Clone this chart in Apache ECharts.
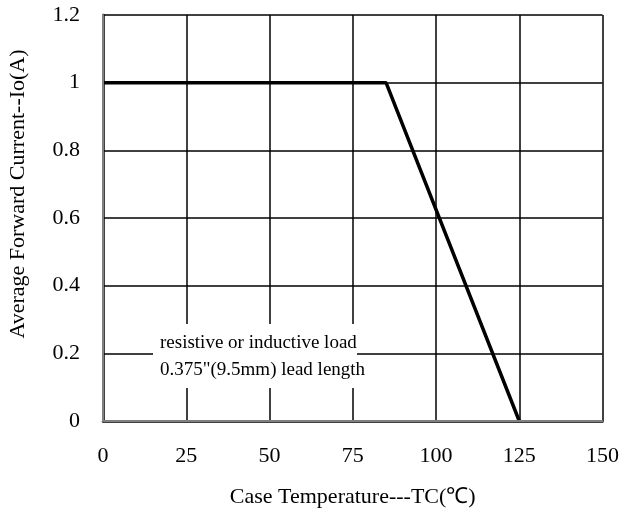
<!DOCTYPE html>
<html><head><meta charset="utf-8">
<script src="https://cdn.jsdelivr.net/npm/echarts@6/dist/echarts.min.js"></script>
<style>html,body{margin:0;padding:0;background:#fff}#c{width:622px;height:513px}</style>
</head><body><div id="c"></div>
<script>
const xTicks = [0, 25, 50, 75, 100, 125, 150];
const yTicks = [0, 0.2, 0.4, 0.6, 0.8, 1, 1.2];
const temperature = [0, 85, 125];
const current = [1, 1, 0];
const xName = 'Case Temperature---TC(\u2103)';
const yName = 'Average Forward Current--Io(A)';
const noteLines = ['resistive or inductive load', '0.375"(9.5mm) lead length'];

const font = 'Liberation Serif';
const chart = echarts.init(document.getElementById('c'));
chart.setOption({
  animation: false,
  grid: { left: 103, right: 18, top: 15, bottom: 91 },
  xAxis: [{
    type: 'value', min: xTicks[0], max: xTicks[xTicks.length - 1], interval: 25,
    name: xName, nameLocation: 'middle', nameGap: 65,
    nameTextStyle: { fontFamily: font, fontSize: 22, color: '#000' },
    axisLine: { lineStyle: { color: '#000', width: 2.5 } },
    axisTick: { show: false },
    axisLabel: { fontFamily: font, fontSize: 22, color: '#000', margin: 24 },
    splitLine: { lineStyle: { color: '#000', width: 1.5 } }
  }, {
    type: 'value', position: 'top', min: 0, max: 150, z: 5,
    axisLine: { show: true, lineStyle: { color: '#808080', width: 2 } },
    axisTick: { show: false }, axisLabel: { show: false }, splitLine: { show: false }
  }],
  yAxis: [{
    type: 'value', min: yTicks[0], max: yTicks[yTicks.length - 1], interval: 0.2,
    axisLine: { show: true, lineStyle: { color: '#000', width: 2.5 } },
    axisTick: { show: false },
    axisLabel: { fontFamily: font, fontSize: 22, color: '#000', margin: 23,
      formatter: v => String(Math.round(v * 10) / 10) },
    splitLine: { lineStyle: { color: '#000', width: 1.5 } }
  }, {
    type: 'value', position: 'right', min: 0, max: 1.2, z: 5,
    axisLine: { show: true, lineStyle: { color: '#808080', width: 2 } },
    axisTick: { show: false }, axisLabel: { show: false }, splitLine: { show: false }
  }],
  series: [{
    type: 'line', xAxisIndex: 0, yAxisIndex: 0,
    data: temperature.map((t, i) => [t, current[i]]),
    showSymbol: false, symbol: 'none',
    lineStyle: { color: '#000', width: 3.5 }, z: 4
  }],
  graphic: [{
    type: 'text', x: 18, y: 194, rotation: Math.PI / 2, z: 11,
    style: { text: yName, fontFamily: font, fontSize: 22, fill: '#000',
      align: 'center', verticalAlign: 'middle' }
  }, {
    type: 'rect', left: 153, top: 324, z: 10,
    shape: { width: 204, height: 64 },
    style: { fill: '#fff' }
  }, {
    type: 'text', left: 160, top: 330, z: 11,
    style: { text: noteLines.join('\n'), fontFamily: font, fontSize: 19, lineHeight: 27, fill: '#000' }
  }]
});
</script></body></html>
